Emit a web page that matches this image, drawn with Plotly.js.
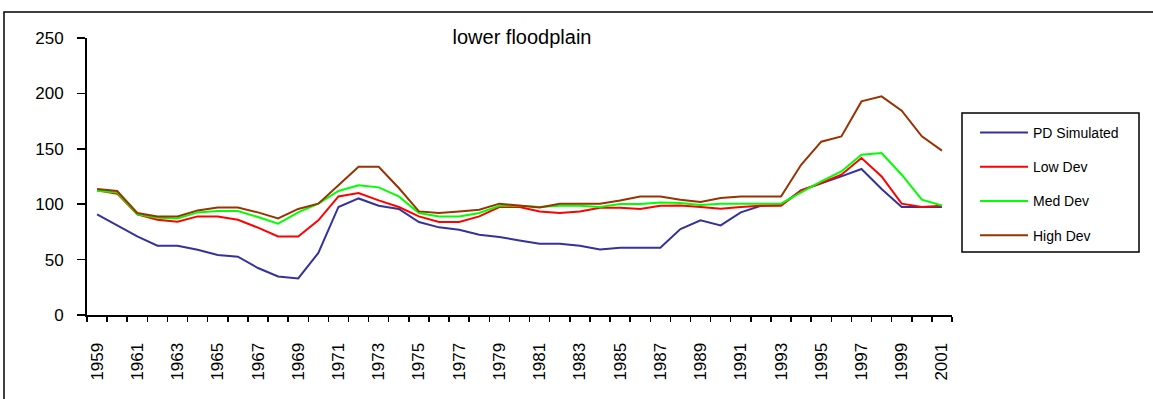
<!DOCTYPE html>
<html>
<head>
<meta charset="utf-8">
<script src="https://cdn.plot.ly/plotly-3.0.1.min.js"></script>
<style>html,body{margin:0;padding:0;background:#fff;}#chart{width:1153px;height:399px;}</style>
</head>
<body>
<div id="chart"></div>
<script>
const years = [1959,1960,1961,1962,1963,1964,1965,1966,1967,1968,1969,1970,1971,1972,1973,1974,1975,1976,1977,1978,1979,1980,1981,1982,1983,1984,1985,1986,1987,1988,1989,1990,1991,1992,1993,1994,1995,1996,1997,1998,1999,2000,2001];
const pdSimulated = [90.8,80.6,70.9,62.5,62.5,58.9,54.2,52.6,42.4,34.8,33.0,56.0,97.5,105.2,98.6,95.7,83.9,79.1,77.0,72.5,70.4,67.3,64.4,64.4,62.5,59.2,60.7,60.7,60.7,77.6,85.4,80.9,92.6,98.6,99.3,112.5,118.5,125.1,131.8,113.7,97.5,97.5,97.5];
const lowDev = [112.5,109.5,90.8,86.0,84.2,89.0,89.0,86.0,78.8,70.9,70.9,85.4,107.0,110.1,103.4,97.5,89.0,83.9,83.9,89.0,97.5,97.5,93.5,92.1,93.5,96.8,96.8,95.7,98.6,98.9,97.5,95.9,97.5,98.6,98.6,112.5,119.1,126.6,141.7,125.1,100.5,97.5,98.6];
const medDev = [112.2,110.6,90.8,87.8,87.2,92.6,93.9,93.9,88.4,82.4,92.6,100.5,111.9,117.0,115.2,107.0,92.1,89.0,89.0,92.1,98.6,98.6,97.5,98.6,98.6,97.5,100.2,100.2,101.6,101.1,99.3,100.5,100.5,100.5,100.5,110.6,120.6,129.6,144.7,146.2,126.6,104.1,98.9];
const highDev = [113.7,111.9,92.1,89.0,89.0,94.4,97.1,97.1,92.6,87.2,95.7,100.5,117.0,133.8,133.8,114.6,93.5,92.1,93.5,95.0,100.5,98.6,97.1,100.5,100.5,100.5,103.4,107.0,107.0,104.1,102.0,105.6,107.0,107.0,107.0,135.6,156.4,161.2,192.8,197.3,184.4,161.2,148.3];
const seriesNames = ["PD Simulated","Low Dev","Med Dev","High Dev"];
const seriesColors = ["#333399","#ff0000","#00ff00","#993300"];
const yTicks = [0,50,100,150,200,250];
const xTickLabels = years.filter((y,i)=>i%2===0);

const FONT = '"Liberation Sans", Arial, sans-serif';
const allSeries = [pdSimulated, lowDev, medDev, highDev];
const traces = allSeries.map((vals,i)=>({
  x: years, y: vals, type:'scatter', mode:'lines', name: seriesNames[i],
  legendgroup: 'g'+i,
  line:{color: seriesColors[i], width:2}
}));

const L=87, R=201, T=38, B=84;
const W=1153, H=399;
const pw = W-L-R, ph = H-T-B;
const px = v => (v-L)/pw;
const py = v => (H-B-v)/ph;

const layout = {
  width: W, height: H,
  margin:{l:L, r:R, t:T, b:B, pad:0},
  paper_bgcolor:'#ffffff', plot_bgcolor:'#ffffff',
  font:{family:FONT, color:'#000'},
  showlegend:true,
  title:{text:'lower floodplain', font:{family:FONT, size:20, color:'#000'}, xref:'paper', x:px(522), xanchor:'center', yref:'container', y:1-37/H, yanchor:'middle'},
  xaxis:{
    type:'linear', range:[1958.5,2001.5], showgrid:false, zeroline:false,
    showline:true, linecolor:'#000', linewidth:2,
    tickmode:'array', tickvals:xTickLabels, ticktext:xTickLabels.map(String),
    ticks:'', tickangle:-90, tickfont:{family:FONT, size:17, color:'#000'},
    ticklabelstandoff:19,
    minor:{tickmode:'linear', tick0:1958.5, dtick:1, ticks:'outside', ticklen:5, tickwidth:1.5, tickcolor:'#000', showgrid:false}
  },
  yaxis:{
    range:[0,250], showgrid:false, zeroline:false,
    showline:true, linecolor:'#000', linewidth:2,
    tickmode:'array', tickvals:yTicks, ticks:'outside', ticklen:8, tickwidth:1.5, tickcolor:'#000',
    tickfont:{family:FONT, size:17, color:'#000'}, ticklabelstandoff:10
  },
  legend:{
    x:px(975), y:py(117), xanchor:'left', yanchor:'top',
    bgcolor:'rgba(0,0,0,0)', borderwidth:0,
    font:{family:FONT, size:14, color:'#000'},
    tracegroupgap:13, itemwidth:48
  },
  shapes:[
    {type:'rect', xref:'paper', yref:'paper', x0:px(4), x1:px(1170), y0:py(420), y1:py(12), line:{color:'#000', width:1.5}, fillcolor:'rgba(0,0,0,0)', layer:'below'},
    {type:'rect', xref:'paper', yref:'paper', x0:px(962), x1:px(1139), y0:py(252), y1:py(113), line:{color:'#000', width:1.5}, fillcolor:'rgba(0,0,0,0)'}
  ]
};

Plotly.newPlot('chart', traces, layout, {displayModeBar:false, staticPlot:true});
</script>
</body>
</html>
